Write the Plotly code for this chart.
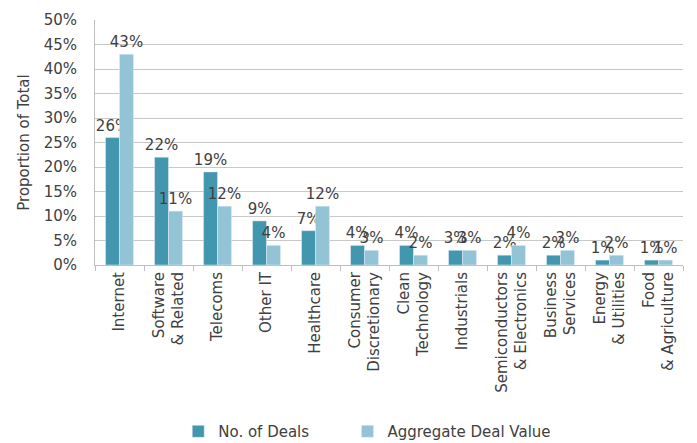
import plotly.graph_objects as go

sectores = ["Internet", "Software<br>& Related", "Telecoms", "Other IT", "Healthcare",
            "Consumer<br>Discretionary", "Clean<br>Technology", "Industrials",
            "Semiconductors<br>& Electronics", "Business<br>Services",
            "Energy<br>& Utilities", "Food<br>& Agriculture"]
num_deals = [26, 22, 19, 9, 7, 4, 4, 3, 2, 2, 1, 1]
valor_agregado = [43, 11, 12, 4, 12, 3, 2, 3, 4, 3, 2, 1]

FUENTE = "'DejaVu Sans', sans-serif"
GRIS = "#404040"

fig = go.Figure()
fig.add_trace(go.Bar(
    x=sectores, y=[v / 100 for v in num_deals],
    name="No. of Deals" + "&nbsp;" * 7,  # espacio extra entre entradas de la leyenda
    marker_color="#4297AF",
    text=[f"{v}%" for v in num_deals], textposition="outside",
    constraintext="none", cliponaxis=False,
    textfont=dict(color=GRIS, size=15, family=FUENTE),
))
fig.add_trace(go.Bar(
    x=sectores, y=[v / 100 for v in valor_agregado], name="Aggregate Deal Value",
    marker_color="#93C4D6",
    text=[f"{v}%" for v in valor_agregado], textposition="outside",
    constraintext="none", cliponaxis=False,
    textfont=dict(color=GRIS, size=15, family=FUENTE),
))

fig.update_layout(
    width=697, height=443,
    paper_bgcolor="white", plot_bgcolor="white",
    font=dict(family=FUENTE, color=GRIS, size=15),
    barmode="group", bargap=0.43, bargroupgap=0,
    margin=dict(t=20, b=178, l=95, r=14, autoexpand=False),
    showlegend=True,
    legend=dict(orientation="h", x=0.463, xanchor="center", y=-0.68, yanchor="middle",
                itemwidth=30, font=dict(size=15, color=GRIS), traceorder="normal"),
    xaxis=dict(tickangle=-90, showline=True, linecolor="#BFBFBF", ticks="outside",
               tickson="boundaries", ticklen=5, tickcolor="#BFBFBF", automargin=False,
               tickfont=dict(size=15, color=GRIS)),
    yaxis=dict(range=[0, 0.5], dtick=0.05, tickformat=".0%", showgrid=True,
               gridcolor="#C8C8C8", showline=True, linecolor="#BFBFBF", automargin=False,
               zeroline=False, ticks="", ticklabelstandoff=14,
               tickfont=dict(size=15, color=GRIS),
               title=dict(text="Proportion of Total", font=dict(size=15, color=GRIS), standoff=10)),
)

fig.write_html("out.html", config={"displayModeBar": False},
               post_script="document.body.style.margin='0';")
